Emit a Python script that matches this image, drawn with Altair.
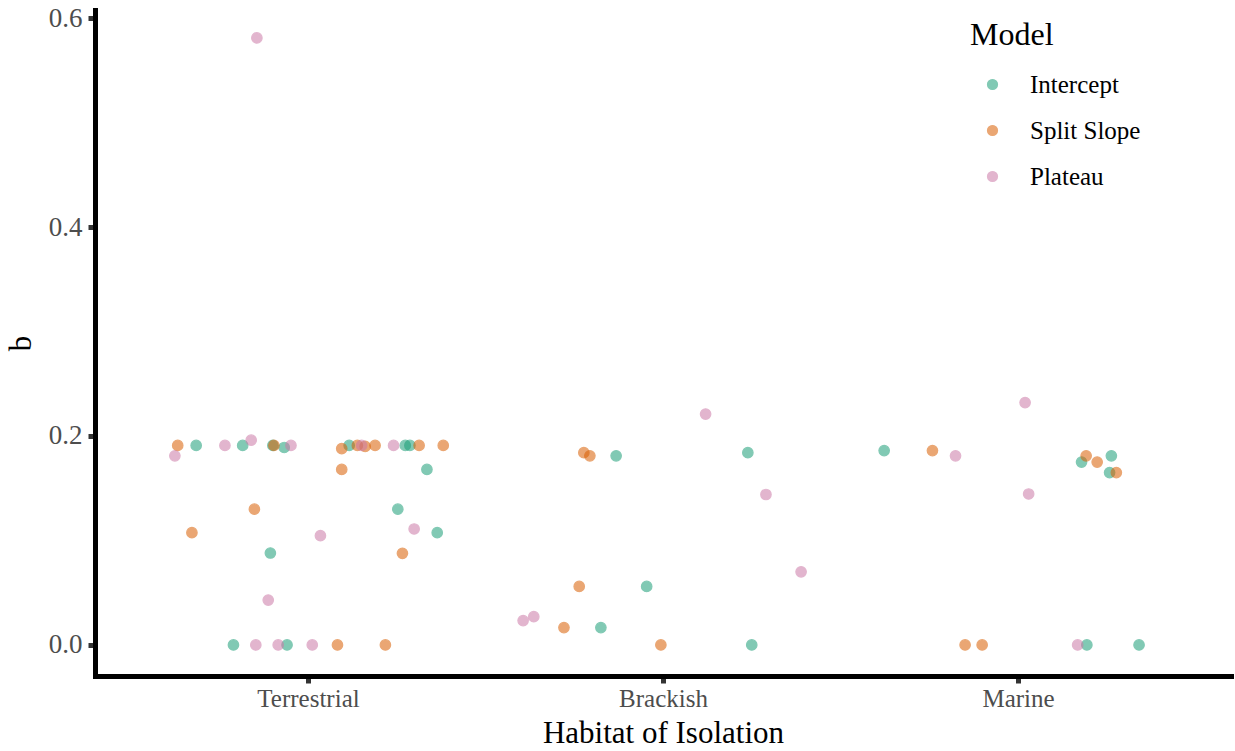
import altair as alt
import pandas as pd

# Habitat categories along the x axis and the model series
habitats = ["Terrestrial", "Brackish", "Marine"]
models = ["Intercept", "Split Slope", "Plateau"]
palette = ["#1B9E77", "#D95F02", "#CC79A7"]

# Horizontal jitter (fraction of category spacing) and b values per habitat / model
terr_intercept_jit = [-0.315, -0.184, -0.099, -0.067, -0.106, 0.253, 0.364, -0.210, -0.059, 0.116, 0.274, 0.287, 0.335]
terr_intercept_b = [0.191, 0.191, 0.191, 0.189, 0.088, 0.130, 0.1075, 0.0, 0.0, 0.191, 0.191, 0.191, 0.168]

terr_split_jit = [-0.367, -0.096, -0.151, -0.327, 0.083, 0.218, 0.095, 0.139, 0.161, 0.189, 0.313, 0.381, 0.095, 0.266]
terr_split_b = [0.191, 0.191, 0.130, 0.1075, 0.0, 0.0, 0.188, 0.191, 0.190, 0.191, 0.191, 0.191, 0.168, 0.0877]

terr_plateau_jit = [-0.375, -0.234, -0.160, -0.048, -0.144, -0.112, 0.035, 0.299, -0.147, -0.084, 0.012, 0.151, 0.241]
terr_plateau_b = [0.181, 0.191, 0.196, 0.191, 0.581, 0.043, 0.1046, 0.111, 0.0, 0.0, 0.0, 0.191, 0.191]

brack_intercept_jit = [-0.132, 0.239, -0.046, -0.175, 0.250]
brack_intercept_b = [0.181, 0.184, 0.056, 0.0166, 0.0]

brack_split_jit = [-0.223, -0.206, -0.236, -0.279, -0.006]
brack_split_b = [0.184, 0.181, 0.056, 0.0166, 0.0]

brack_plateau_jit = [0.120, 0.290, 0.389, -0.394, -0.364]
brack_plateau_b = [0.221, 0.144, 0.070, 0.0233, 0.0271]

marine_intercept_jit = [-0.377, 0.179, 0.263, 0.258, 0.194, 0.341]
marine_intercept_b = [0.186, 0.175, 0.181, 0.165, 0.0, 0.0]

marine_split_jit = [-0.241, 0.192, 0.223, 0.277, -0.149, -0.101]
marine_split_b = [0.186, 0.181, 0.175, 0.165, 0.0, 0.0]

marine_plateau_jit = [0.020, -0.176, 0.030, 0.168]
marine_plateau_b = [0.232, 0.181, 0.1445, 0.0]

groups = [
    ("Terrestrial", "Intercept", terr_intercept_jit, terr_intercept_b),
    ("Terrestrial", "Split Slope", terr_split_jit, terr_split_b),
    ("Terrestrial", "Plateau", terr_plateau_jit, terr_plateau_b),
    ("Brackish", "Intercept", brack_intercept_jit, brack_intercept_b),
    ("Brackish", "Split Slope", brack_split_jit, brack_split_b),
    ("Brackish", "Plateau", brack_plateau_jit, brack_plateau_b),
    ("Marine", "Intercept", marine_intercept_jit, marine_intercept_b),
    ("Marine", "Split Slope", marine_split_jit, marine_split_b),
    ("Marine", "Plateau", marine_plateau_jit, marine_plateau_b),
]

rows = []
for hab, mod, jits, bs in groups:
    for j, b in zip(jits, bs):
        rows.append({"Habitat": hab, "Model": mod,
                     "pos": habitats.index(hab) + 1 + j, "b": b})
df = pd.DataFrame(rows)

label_expr = "[" + ",".join(f"'{h}'" for h in habitats) + "][datum.value - 1]"

FONT = "Liberation Serif"
model_scale = alt.Scale(domain=models, range=palette)

chart = alt.Chart(df).mark_circle(
    size=110, opacity=0.55, strokeWidth=1.2
).encode(
    x=alt.X("pos:Q",
            scale=alt.Scale(domain=[0.4, 3.6], nice=False, zero=False),
            axis=alt.Axis(values=[1, 2, 3], labelExpr=label_expr,
                          labelFontSize=25, labelPadding=3,
                          title="Habitat of Isolation")),
    y=alt.Y("b:Q",
            scale=alt.Scale(domain=[-0.0297, 0.6077], nice=False, zero=False),
            axis=alt.Axis(values=[0, 0.2, 0.4, 0.6], format=".1f",
                          labelFontSize=27, labelPadding=6, title="b")),
    color=alt.Color("Model:N", scale=model_scale,
                    legend=alt.Legend(title="Model", orient="none",
                                      legendX=875, legendY=10)),
    stroke=alt.Stroke("Model:N", scale=model_scale,
                      legend=alt.Legend(title="Model", orient="none",
                                        legendX=875, legendY=10)),
).properties(
    width=1136, height=666,
    autosize=alt.AutoSizeParams(type="none"),
    padding={"left": 95, "top": 10, "right": 4, "bottom": 75},
).configure_view(
    stroke=None
).configure_axis(
    grid=False,
    domainColor="black", domainWidth=5, domainCap="square",
    tickColor="#333333", tickSize=7, tickWidth=5,
    labelFont=FONT, labelColor="#4D4D4D",
    titleFont=FONT, titleFontSize=31, titleFontWeight="normal", titleColor="black",
).configure_axisX(
    titlePadding=7,
).configure_axisY(
    titlePadding=11,
).configure_legend(
    titleFont=FONT, titleFontSize=32, titleFontWeight="normal", titleColor="black",
    labelFont=FONT, labelFontSize=25, labelColor="black",
    symbolType="circle", symbolSize=100, symbolOpacity=0.55, symbolStrokeWidth=1.2,
    symbolOffset=10, labelOffset=25, rowPadding=20, titlePadding=20, padding=0,
)

chart.save("out.html", embed_options={"renderer": "svg", "actions": False})
